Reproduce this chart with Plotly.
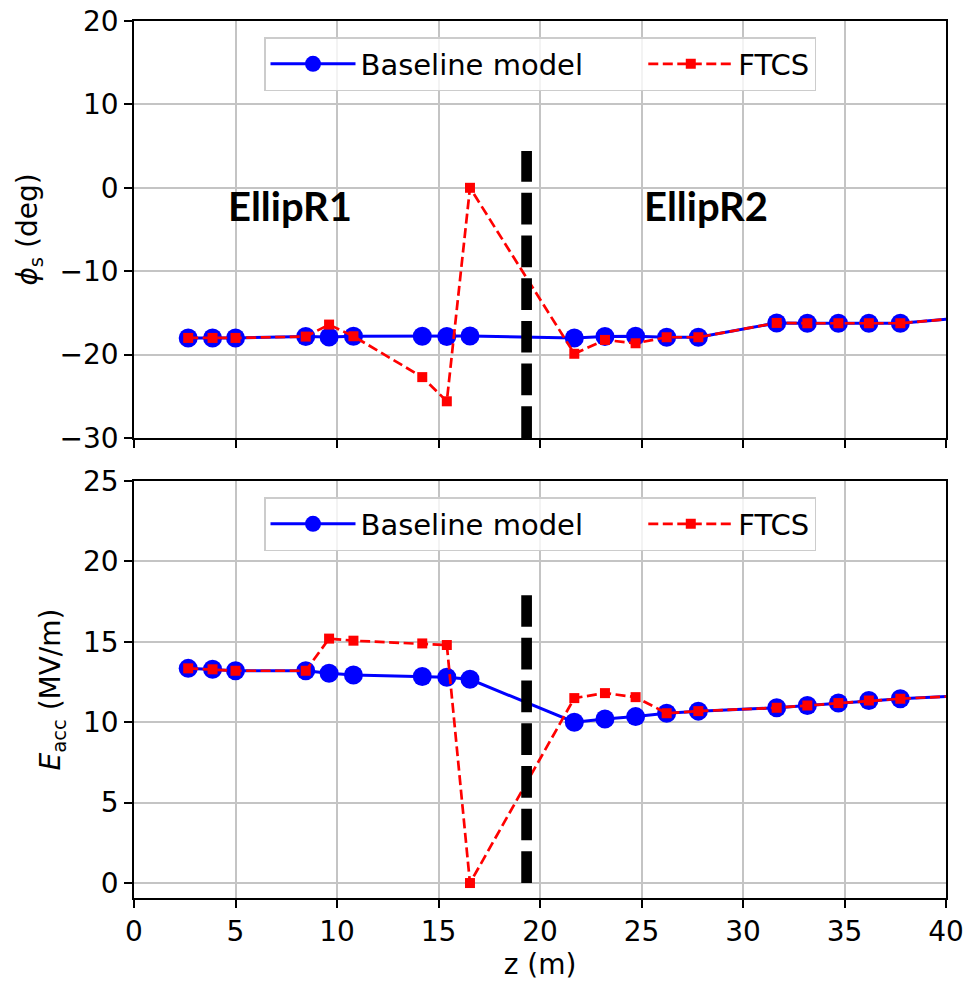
import plotly.graph_objects as go

# ---------------- data ----------------
z = [2.67, 3.87, 5.0, 8.46, 9.61, 10.81, 14.2, 15.41, 16.55,
     21.69, 23.2, 24.71, 26.24, 27.8, 31.66, 33.17, 34.7, 36.2, 37.75, 41.3]

phi_baseline = [-18.0, -18.0, -18.0, -17.84, -17.9, -17.8, -17.8, -17.84, -17.76,
                -18.0, -17.84, -17.8, -17.92, -17.92, -16.2, -16.24, -16.24, -16.24, -16.24, -15.5]
phi_ftcs = [-18.0, -18.0, -18.0, -17.84, -16.4, -17.8, -22.7, -25.6, 0.0,
            -19.9, -18.24, -18.64, -17.92, -17.92, -16.2, -16.24, -16.24, -16.24, -16.24, -15.5]

eacc_baseline = [13.35, 13.29, 13.2, 13.2, 13.04, 12.94, 12.84, 12.8, 12.67,
                 10.0, 10.2, 10.35, 10.56, 10.69, 10.9, 11.04, 11.19, 11.35, 11.46, 11.68]
eacc_ftcs = [13.35, 13.29, 13.2, 13.2, 15.2, 15.07, 14.9, 14.8, 0.0,
             11.5, 11.81, 11.56, 10.56, 10.69, 10.9, 11.04, 11.19, 11.35, 11.46, 11.68]

divider_z = [19.34, 19.34]
divider_phi = [-30, 4.4]
divider_eacc = [0, 18]

section_labels = ["EllipR1", "EllipR2"]
section_z = [7.7, 28.2]
section_phi = [-2.2, -2.2]

series_names = ["Baseline model", "FTCS"]

x_ticks = [0, 5, 10, 15, 20, 25, 30, 35, 40]
phi_ticks = [-30, -20, -10, 0, 10, 20]
eacc_ticks = [0, 5, 10, 15, 20, 25]

# ---------------- figure ----------------
FONT = "DejaVu Sans"
FS = 28
LFS = 29
PAD = "\u00a0" * 6

fig = go.Figure()

def add_pair(yb, yf, xa, ya, leg):
    fig.add_trace(go.Scatter(
        x=z, y=yb, mode="lines+markers", name=series_names[0] + PAD,
        line=dict(color="blue", width=3),
        marker=dict(symbol="circle", size=19, color="blue"),
        xaxis=xa, yaxis=ya, legend=leg, cliponaxis=True))
    fig.add_trace(go.Scatter(
        x=z, y=yf, mode="lines+markers", name=series_names[1],
        line=dict(color="red", width=2.7, dash="10px,4.5px"),
        marker=dict(symbol="square", size=10, color="red"),
        xaxis=xa, yaxis=ya, legend=leg, cliponaxis=True))

add_pair(phi_baseline, phi_ftcs, "x", "y", "legend")
add_pair(eacc_baseline, eacc_ftcs, "x2", "y2", "legend2")

for yv, xa, ya in [(divider_phi, "x", "y"), (divider_eacc, "x2", "y2")]:
    fig.add_trace(go.Scatter(
        x=divider_z, y=yv, mode="lines", showlegend=False,
        line=dict(color="black", width=10.7, dash="31.7px,11px"),
        xaxis=xa, yaxis=ya, hoverinfo="skip"))

for lab, zx, py in zip(section_labels, section_z, section_phi):
    fig.add_annotation(x=zx, y=py, xref="x", yref="y", text="<b>" + lab + "</b>",
                       showarrow=False, font=dict(family="Lato", size=40, color="black"))

axis_common = dict(
    showline=True, linecolor="black", linewidth=1.6, mirror=True,
    ticks="outside", ticklen=8, tickwidth=1.6, tickcolor="black",
    showgrid=True, gridcolor="#c4c4c4", gridwidth=1.5,
    zeroline=False, automargin=False,
    tickfont=dict(family=FONT, size=FS, color="black"),
)

top_dom = [(898 - 438) / 877, 1.0]
bot_dom = [0.0, (898 - 481) / 877]

legend_common = dict(orientation="h", x=0.5, xanchor="center", yanchor="top",
                     bgcolor="rgba(255,255,255,0.8)", bordercolor="#cccccc", borderwidth=1.5,
                     font=dict(family=FONT, size=LFS, color="black"), itemwidth=85)

fig.update_layout(
    width=966, height=981,
    margin=dict(l=134, r=20, t=21, b=83),
    paper_bgcolor="white", plot_bgcolor="white",
    font=dict(family=FONT, size=FS, color="black"),
    xaxis=dict(axis_common, domain=[0, 1], anchor="y", range=[0, 40],
               tickvals=x_ticks, showticklabels=False),
    yaxis=dict(axis_common, domain=top_dom, anchor="x", range=[-30, 20],
               tickvals=phi_ticks, ticktext=[str(v).replace("-", "\u2212") for v in phi_ticks],
               title=dict(text="<i>\u03d5</i><sub>s</sub> (deg)", standoff=14,
                          font=dict(family=FONT, size=FS))),
    xaxis2=dict(axis_common, domain=[0, 1], anchor="y2", range=[0, 40],
                tickvals=x_ticks, matches="x",
                title=dict(text="z (m)", standoff=8, font=dict(family=FONT, size=FS))),
    yaxis2=dict(axis_common, domain=bot_dom, anchor="x2", range=[-0.93, 25],
                tickvals=eacc_ticks,
                title=dict(text="<i>E</i><sub>acc</sub> (MV/m)", standoff=14,
                           font=dict(family=FONT, size=FS))),
    legend=dict(legend_common, y=1 - 16 / 877),
    legend2=dict(legend_common, y=bot_dom[1] - 16 / 877),
    showlegend=True,
)

fig.write_html("out.html",
               config={"displayModeBar": False},
               post_script="document.body.style.margin='0';document.body.style.overflow='hidden';")
